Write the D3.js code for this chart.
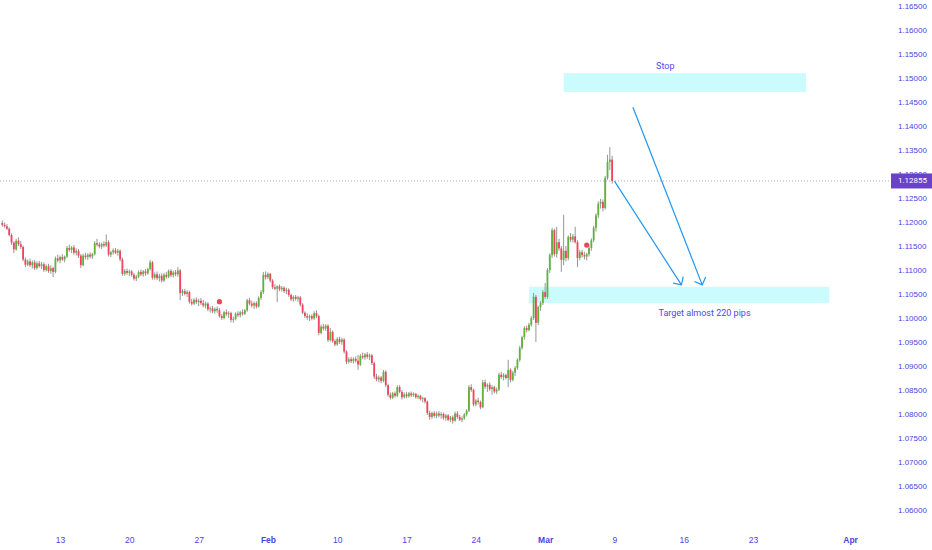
<!DOCTYPE html>
<html lang="en">
<head>
<meta charset="utf-8">
<title>4H candles</title>
<script src="https://d3js.org/d3.v7.min.js"></script>
<style>
  body { margin: 0; background: #fff; }
  svg { display: block; font-family: Roboto, "Noto Sans", sans-serif; }
  .axis text { fill: #4646e6; font-size: 8px; }
  .xaxis text { font-size: 8.5px; }
  .axis .month { font-weight: 700; }
  .note { fill: #4a4af0; font-size: 9px; }
</style>
</head>
<body>
<svg width="932" height="550"></svg>
<script>
// 4H bars, first one is Jan 6 20:00, then 6 bars per trading day
var firstDay = "2020-01-07";
var candles = [
  [1.1198,1.1203,1.1190,1.1194],[1.1194,1.1199,1.1188,1.1191],[1.1191,1.1196,1.1183,1.1186],[1.1186,1.1189,1.1170,1.1173],
  [1.1173,1.1176,1.1152,1.1157],[1.1157,1.1160,1.1135,1.1143],[1.1143,1.1165,1.1140,1.1161],[1.1161,1.1168,1.1150,1.1154],
  [1.1154,1.1160,1.1144,1.1148],[1.1148,1.1151,1.1118,1.1122],[1.1122,1.1126,1.1106,1.1111],[1.1111,1.1122,1.1108,1.1118],
  [1.1118,1.1124,1.1106,1.1110],[1.1110,1.1120,1.1103,1.1116],[1.1116,1.1121,1.1100,1.1104],[1.1104,1.1118,1.1101,1.1114],
  [1.1114,1.1119,1.1105,1.1108],[1.1108,1.1117,1.1102,1.1112],[1.1112,1.1116,1.1096,1.1100],[1.1100,1.1112,1.1097,1.1108],
  [1.1108,1.1113,1.1094,1.1098],[1.1098,1.1110,1.1092,1.1104],[1.1104,1.1107,1.1085,1.1096],[1.1096,1.1128,1.1093,1.1124],
  [1.1124,1.1132,1.1116,1.1120],[1.1120,1.1130,1.1114,1.1127],[1.1127,1.1133,1.1119,1.1122],[1.1122,1.1130,1.1116,1.1128],
  [1.1128,1.1150,1.1125,1.1146],[1.1146,1.1153,1.1138,1.1142],[1.1142,1.1150,1.1135,1.1147],[1.1147,1.1152,1.1132,1.1136],
  [1.1136,1.1145,1.1130,1.1140],[1.1140,1.1144,1.1125,1.1130],[1.1130,1.1133,1.1104,1.1110],[1.1110,1.1134,1.1108,1.1130],
  [1.1130,1.1136,1.1122,1.1127],[1.1127,1.1135,1.1121,1.1132],[1.1132,1.1137,1.1124,1.1128],[1.1128,1.1136,1.1123,1.1133],
  [1.1133,1.1160,1.1130,1.1156],[1.1156,1.1165,1.1149,1.1153],[1.1153,1.1158,1.1145,1.1149],[1.1149,1.1157,1.1144,1.1154],
  [1.1154,1.1160,1.1147,1.1151],[1.1151,1.1174,1.1148,1.1158],[1.1158,1.1162,1.1128,1.1132],[1.1132,1.1140,1.1127,1.1137],
  [1.1137,1.1145,1.1132,1.1141],[1.1141,1.1146,1.1133,1.1136],[1.1136,1.1144,1.1130,1.1140],[1.1140,1.1143,1.1118,1.1122],
  [1.1122,1.1126,1.1088,1.1092],[1.1092,1.1102,1.1088,1.1098],[1.1098,1.1103,1.1090,1.1094],[1.1094,1.1101,1.1087,1.1097],
  [1.1097,1.1100,1.1086,1.1090],[1.1090,1.1094,1.1078,1.1082],[1.1082,1.1090,1.1077,1.1086],[1.1086,1.1099,1.1083,1.1096],
  [1.1096,1.1101,1.1087,1.1091],[1.1091,1.1100,1.1086,1.1097],[1.1097,1.1102,1.1088,1.1093],[1.1093,1.1105,1.1090,1.1102],
  [1.1102,1.1121,1.1099,1.1116],[1.1116,1.1119,1.1080,1.1084],[1.1084,1.1095,1.1080,1.1091],[1.1091,1.1097,1.1079,1.1083],
  [1.1083,1.1092,1.1076,1.1088],[1.1088,1.1093,1.1074,1.1078],[1.1078,1.1094,1.1075,1.1090],[1.1090,1.1096,1.1082,1.1086],
  [1.1086,1.1101,1.1083,1.1098],[1.1098,1.1102,1.1085,1.1089],[1.1089,1.1099,1.1084,1.1095],[1.1095,1.1100,1.1087,1.1091],
  [1.1091,1.1106,1.1086,1.1099],[1.1099,1.1102,1.1037,1.1052],[1.1052,1.1060,1.1046,1.1056],[1.1056,1.1061,1.1047,1.1050],
  [1.1050,1.1058,1.1044,1.1054],[1.1054,1.1057,1.1030,1.1034],[1.1034,1.1040,1.1026,1.1030],[1.1030,1.1041,1.1027,1.1038],
  [1.1038,1.1043,1.1029,1.1033],[1.1033,1.1040,1.1025,1.1036],[1.1036,1.1042,1.1027,1.1031],[1.1031,1.1038,1.1022,1.1026],
  [1.1026,1.1034,1.1020,1.1030],[1.1030,1.1033,1.1014,1.1018],[1.1018,1.1024,1.1011,1.1020],[1.1020,1.1025,1.1010,1.1014],
  [1.1014,1.1022,1.1009,1.1019],[1.1019,1.1024,1.1011,1.1016],[1.1016,1.1021,1.1001,1.1004],[1.1004,1.1008,1.0996,1.1000],
  [1.1000,1.1015,1.0997,1.1012],[1.1012,1.1018,1.1004,1.1008],[1.1008,1.1014,1.1000,1.1010],[1.1010,1.1013,1.0991,1.0996],
  [1.0996,1.1003,1.0990,1.0998],[1.0998,1.1012,1.0995,1.1009],[1.1009,1.1014,1.1002,1.1006],[1.1006,1.1015,1.1001,1.1012],
  [1.1012,1.1018,1.1005,1.1009],[1.1009,1.1019,1.1006,1.1016],[1.1016,1.1040,1.1013,1.1037],[1.1037,1.1042,1.1026,1.1030],
  [1.1030,1.1036,1.1022,1.1026],[1.1026,1.1034,1.1019,1.1031],[1.1031,1.1035,1.1020,1.1024],[1.1024,1.1045,1.1022,1.1042],
  [1.1042,1.1058,1.1038,1.1054],[1.1054,1.1096,1.1050,1.1090],[1.1090,1.1097,1.1080,1.1085],[1.1085,1.1095,1.1081,1.1092],
  [1.1092,1.1094,1.1074,1.1078],[1.1078,1.1081,1.1060,1.1064],[1.1064,1.1070,1.1058,1.1061],[1.1061,1.1068,1.1033,1.1066],
  [1.1066,1.1070,1.1056,1.1060],[1.1060,1.1067,1.1055,1.1063],[1.1063,1.1066,1.1052,1.1056],[1.1056,1.1063,1.1050,1.1059],
  [1.1059,1.1062,1.1044,1.1048],[1.1048,1.1051,1.1035,1.1039],[1.1039,1.1047,1.1034,1.1044],[1.1044,1.1048,1.1036,1.1040],
  [1.1040,1.1046,1.1034,1.1043],[1.1043,1.1046,1.1024,1.1028],[1.1028,1.1031,1.1008,1.1011],[1.1011,1.1014,1.1000,1.1004],
  [1.1004,1.1010,1.0996,1.1001],[1.1001,1.1007,1.0994,1.1004],[1.1004,1.1008,1.0995,1.0999],[1.0999,1.1014,1.0996,1.1010],
  [1.1010,1.1016,1.1000,1.1004],[1.1004,1.1007,1.0964,1.0969],[1.0969,1.0986,1.0966,1.0982],[1.0982,1.0988,1.0974,1.0978],
  [1.0978,1.0987,1.0973,1.0984],[1.0984,1.0987,1.0950,1.0954],[1.0954,1.0979,1.0951,1.0971],[1.0971,1.0974,1.0948,1.0952],
  [1.0952,1.0956,1.0941,1.0945],[1.0945,1.0960,1.0942,1.0956],[1.0956,1.0961,1.0946,1.0950],[1.0950,1.0959,1.0944,1.0955],
  [1.0955,1.0958,1.0926,1.0930],[1.0930,1.0933,1.0904,1.0909],[1.0909,1.0918,1.0905,1.0914],[1.0914,1.0919,1.0906,1.0910],
  [1.0910,1.0918,1.0905,1.0915],[1.0915,1.0920,1.0907,1.0911],[1.0911,1.0923,1.0892,1.0903],[1.0903,1.0925,1.0900,1.0921],
  [1.0921,1.0928,1.0914,1.0918],[1.0918,1.0927,1.0913,1.0924],[1.0924,1.0929,1.0915,1.0919],[1.0919,1.0926,1.0912,1.0922],
  [1.0922,1.0925,1.0902,1.0906],[1.0906,1.0909,1.0873,1.0878],[1.0878,1.0884,1.0868,1.0872],[1.0872,1.0880,1.0866,1.0876],
  [1.0876,1.0879,1.0864,1.0869],[1.0869,1.0892,1.0866,1.0888],[1.0888,1.0891,1.0856,1.0860],[1.0860,1.0863,1.0836,1.0840],
  [1.0840,1.0845,1.0830,1.0834],[1.0834,1.0846,1.0831,1.0843],[1.0843,1.0847,1.0834,1.0838],[1.0838,1.0860,1.0835,1.0856],
  [1.0856,1.0860,1.0843,1.0846],[1.0846,1.0850,1.0830,1.0835],[1.0835,1.0845,1.0832,1.0841],[1.0841,1.0846,1.0833,1.0837],
  [1.0837,1.0846,1.0834,1.0843],[1.0843,1.0847,1.0835,1.0839],[1.0839,1.0845,1.0836,1.0842],[1.0842,1.0844,1.0832,1.0835],
  [1.0835,1.0841,1.0831,1.0838],[1.0838,1.0840,1.0828,1.0831],[1.0831,1.0836,1.0824,1.0833],[1.0833,1.0835,1.0822,1.0826],
  [1.0826,1.0828,1.0798,1.0802],[1.0802,1.0807,1.0788,1.0794],[1.0794,1.0805,1.0790,1.0802],[1.0802,1.0806,1.0792,1.0796],
  [1.0796,1.0805,1.0791,1.0801],[1.0801,1.0806,1.0793,1.0797],[1.0797,1.0804,1.0790,1.0800],[1.0800,1.0803,1.0788,1.0792],
  [1.0792,1.0800,1.0786,1.0797],[1.0797,1.0800,1.0785,1.0788],[1.0788,1.0796,1.0783,1.0793],[1.0793,1.0797,1.0780,1.0786],
  [1.0786,1.0805,1.0784,1.0801],[1.0801,1.0806,1.0790,1.0794],[1.0794,1.0798,1.0785,1.0788],[1.0788,1.0795,1.0783,1.0791],
  [1.0791,1.0802,1.0788,1.0799],[1.0799,1.0810,1.0795,1.0807],[1.0807,1.0860,1.0804,1.0856],[1.0856,1.0862,1.0846,1.0850],
  [1.0850,1.0853,1.0816,1.0820],[1.0820,1.0831,1.0816,1.0828],[1.0828,1.0834,1.0820,1.0825],[1.0825,1.0828,1.0810,1.0814],
  [1.0814,1.0871,1.0812,1.0866],[1.0866,1.0872,1.0852,1.0857],[1.0857,1.0864,1.0846,1.0861],[1.0861,1.0866,1.0848,1.0852],
  [1.0852,1.0860,1.0840,1.0856],[1.0856,1.0859,1.0843,1.0847],[1.0847,1.0855,1.0842,1.0851],[1.0851,1.0886,1.0848,1.0882],
  [1.0882,1.0888,1.0873,1.0877],[1.0877,1.0885,1.0870,1.0881],[1.0881,1.0884,1.0872,1.0875],[1.0875,1.0913,1.0856,1.0892],
  [1.0892,1.0895,1.0866,1.0871],[1.0871,1.0890,1.0868,1.0886],[1.0886,1.0900,1.0879,1.0896],[1.0896,1.0916,1.0892,1.0913],
  [1.0913,1.0942,1.0909,1.0938],[1.0938,1.0963,1.0934,1.0960],[1.0960,1.0983,1.0955,1.0979],[1.0979,1.0984,1.0970,1.0975],
  [1.0975,1.0990,1.0972,1.0986],[1.0986,1.1004,1.0982,1.1000],[1.1000,1.1052,1.0996,1.1044],[1.1044,1.1048,1.0950,1.0990],
  [1.0990,1.1026,1.0985,1.1023],[1.1023,1.1035,1.1015,1.1031],[1.1031,1.1058,1.1027,1.1054],[1.1054,1.1073,1.1040,1.1044],
  [1.1044,1.1104,1.1040,1.1100],[1.1100,1.1135,1.1094,1.1131],[1.1131,1.1188,1.1125,1.1183],[1.1183,1.1186,1.1128,1.1133],
  [1.1133,1.1190,1.1126,1.1158],[1.1158,1.1165,1.1140,1.1145],[1.1145,1.1150,1.1096,1.1121],[1.1121,1.1215,1.1110,1.1140],
  [1.1140,1.1150,1.1118,1.1125],[1.1125,1.1172,1.1120,1.1169],[1.1169,1.1177,1.1158,1.1163],[1.1163,1.1175,1.1157,1.1170],
  [1.1170,1.1190,1.1155,1.1158],[1.1158,1.1162,1.1106,1.1125],[1.1125,1.1142,1.1120,1.1137],[1.1137,1.1142,1.1126,1.1131],
  [1.1131,1.1138,1.1122,1.1128],[1.1128,1.1136,1.1120,1.1133],[1.1133,1.1150,1.1128,1.1146],[1.1146,1.1166,1.1140,1.1162],
  [1.1162,1.1192,1.1158,1.1188],[1.1188,1.1218,1.1180,1.1214],[1.1214,1.1243,1.1208,1.1238],[1.1238,1.1248,1.1228,1.1242],
  [1.1242,1.1247,1.1222,1.1229],[1.1229,1.1296,1.1226,1.1292],[1.1292,1.1340,1.1288,1.1325],[1.1325,1.1356,1.1308,1.1330],
  [1.1330,1.1338,1.1280,1.12855]
];

var tickDates  = ["2020-01-13","2020-01-20","2020-01-27","2020-02-03","2020-02-10","2020-02-17",
                  "2020-02-24","2020-03-02","2020-03-09","2020-03-16","2020-03-23","2020-04-01"];
var tickLabels = ["13","20","27","Feb","10","17","24","Mar","9","16","23","Apr"];
var priceTicks = [1.060,1.065,1.070,1.075,1.080,1.085,1.090,1.095,1.100,1.105,1.110,
                  1.115,1.120,1.125,1.130,1.135,1.140,1.145,1.150,1.155,1.160,1.165];

// event dots (bar index, price)
var markers = [[94, 1.1034], [253, 1.1152]];
// drawn rectangles: bar from, bar to, price top, price bottom
var zones = [[243, 348, 1.1510, 1.1471], [228, 358, 1.1065, 1.1031]];
// arrows: bar, price -> bar, price
var arrows = [[265, 1.1285, 294, 1.1069], [273, 1.1439, 303, 1.1069]];
var notes = [[287, 1.1524, "Stop"], [304, 1.1009, "Target almost 220 pips"]];

var svg = d3.select("svg");
var parseDay = d3.timeParse("%Y-%m-%d");

function barOf(day) {
  var n = d3.timeDay.range(parseDay(firstDay), parseDay(day))
    .filter(d => d.getDay() != 0 && d.getDay() != 6).length;
  return 1 + 6 * n;
}

var xScale = d3.scaleLinear().domain([0, 372]).range([2.3, 2.3 + 2.31 * 372]);
var yScale = d3.scaleLinear().domain([1.06, 1.165]).range([510, 6]);

var upColor = "#5fb23a", downColor = "#f2425c", wickColor = "#8a8a8a";

// zones first, under the candles
svg.append("g").selectAll("rect")
  .data(zones).join("rect")
    .attr("x", d => xScale(d[0]))
    .attr("width", d => xScale(d[1]) - xScale(d[0]))
    .attr("y", d => yScale(d[2]))
    .attr("height", d => yScale(d[3]) - yScale(d[2]))
    .attr("fill", "#ccfbfd");

// last price line
var last = candles[candles.length - 1][3];
svg.append("line")
  .attr("x1", 0).attr("x2", 891)
  .attr("y1", yScale(last)).attr("y2", yScale(last))
  .attr("stroke", "#a98be6").attr("stroke-width", 0.8)
  .attr("stroke-dasharray", "1,2");

var g = svg.append("g");
var bar = g.selectAll("g").data(candles).join("g")
  .attr("transform", (d, i) => `translate(${xScale(i)},0)`);
bar.append("line")
  .attr("y1", d => yScale(d[1])).attr("y2", d => yScale(d[2]))
  .attr("stroke", wickColor).attr("stroke-width", 0.9);
bar.append("rect")
  .attr("x", -0.9).attr("width", 1.8)
  .attr("y", d => yScale(Math.max(d[0], d[3])))
  .attr("height", d => Math.max(0.8, Math.abs(yScale(d[0]) - yScale(d[3]))))
  .attr("fill", d => d[3] >= d[0] ? upColor : downColor);

svg.append("g").selectAll("circle")
  .data(markers).join("circle")
    .attr("cx", d => xScale(d[0])).attr("cy", d => yScale(d[1]))
    .attr("r", 2.6).attr("fill", "#ef4455");

// arrows with open heads
var ag = svg.append("g").attr("stroke", "#2196f3").attr("stroke-width", 1.2).attr("fill", "none");
arrows.forEach(function(a) {
  var x1 = xScale(a[0]), y1 = yScale(a[1]), x2 = xScale(a[2]), y2 = yScale(a[3]);
  var ang = Math.atan2(y1 - y2, x1 - x2), len = 8.5;
  ag.append("line").attr("x1", x1).attr("y1", y1).attr("x2", x2).attr("y2", y2);
  ag.append("path").attr("d", d3.line()([
    [x2 + len * Math.cos(ang + Math.PI / 4), y2 + len * Math.sin(ang + Math.PI / 4)],
    [x2, y2],
    [x2 + len * Math.cos(ang - Math.PI / 4), y2 + len * Math.sin(ang - Math.PI / 4)]
  ]));
});

svg.append("g").selectAll("text")
  .data(notes).join("text")
    .attr("class", "note")
    .attr("x", d => xScale(d[0])).attr("y", d => yScale(d[1]))
    .attr("text-anchor", "middle").attr("dominant-baseline", "middle")
    .text(d => d[2]);

// price scale
var yAxis = svg.append("g").attr("class", "axis")
  .attr("transform", "translate(893,0)")
  .call(d3.axisRight(yScale).tickValues(priceTicks).tickFormat(d3.format(".5f")).tickSize(0).tickPadding(5));
yAxis.select(".domain").remove();

// time scale
var xAxis = svg.append("g").attr("class", "axis xaxis")
  .attr("transform", "translate(0,533)")
  .call(d3.axisBottom(xScale).tickValues(tickDates.map(barOf))
    .tickFormat((d, i) => tickLabels[i]).tickSize(0).tickPadding(4));
xAxis.select(".domain").remove();
xAxis.selectAll("text").classed("month", (d, i) => isNaN(+tickLabels[i]));

// last price label, drawn over the scale like the platform does
svg.append("rect")
  .attr("x", 891).attr("width", 41)
  .attr("y", yScale(last) - 7.5).attr("height", 15)
  .attr("fill", "#6a42c8");
svg.append("text")
  .attr("x", 898).attr("y", yScale(last))
  .attr("dominant-baseline", "middle")
  .attr("fill", "#fff").attr("font-size", "8px")
  .text(d3.format(".5f")(last));
</script>
</body>
</html>
